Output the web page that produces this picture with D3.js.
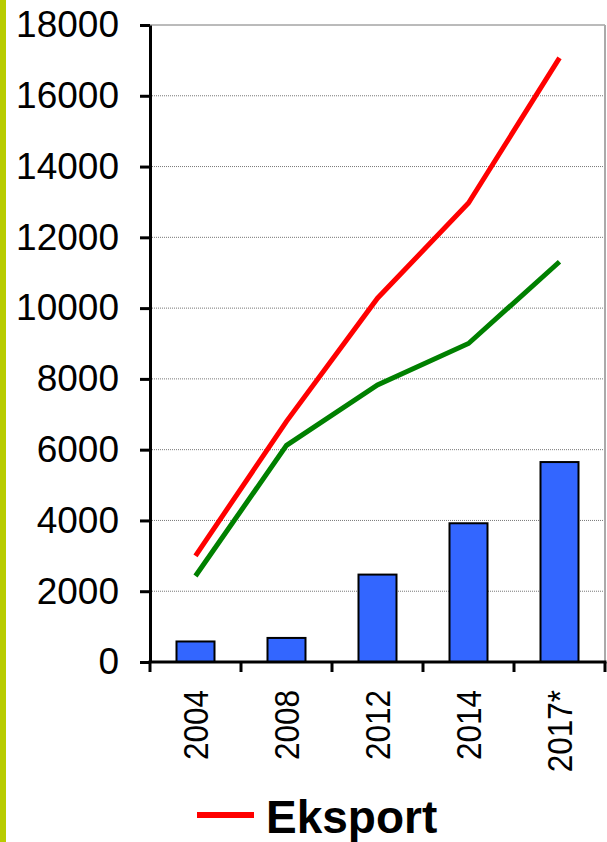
<!DOCTYPE html>
<html>
<head>
<meta charset="utf-8">
<script src="https://cdn.jsdelivr.net/npm/d3@7"></script>
<style>
  body { margin: 0; background: #fff; }
  svg { display: block; font-family: Arial, "Liberation Sans", sans-serif; }
</style>
</head>
<body>
<div id="chart"></div>
<script>
// chart data
var years = ["2004", "2008", "2012", "2014", "2017*"];
var bars = [580, 680, 2470, 3920, 5650];
var eksport = [3000, 6800, 10280, 12970, 17070];
var importVals = [2430, 6120, 7830, 9000, 11310];
var yTicks = [0, 2000, 4000, 6000, 8000, 10000, 12000, 14000, 16000, 18000];

var width = 607, height = 842;
// note: "top" is taken by window.top, so use plot* names
var plotLeft = 150, plotRight = 605, plotTop = 25, plotBottom = 662;

var svg = d3.select("#chart").append("svg")
    .attr("width", width)
    .attr("height", height);

// green side strip
svg.append("rect")
    .attr("x", 0).attr("y", 0)
    .attr("width", 6).attr("height", height)
    .attr("fill", "#b8cc00");

var x = d3.scaleBand()
    .domain(years)
    .range([plotLeft, plotRight]);

var y = d3.scaleLinear()
    .domain([0, 18000])
    .range([plotBottom, plotTop]);

// grid lines
svg.selectAll(".grid")
    .data(yTicks.filter(function(d) { return d > 0; }))
    .enter().append("line")
    .attr("x1", plotLeft).attr("x2", plotRight)
    .attr("y1", function(d) { return y(d); })
    .attr("y2", function(d) { return y(d); })
    .attr("stroke", "#777")
    .attr("stroke-width", 1)
    .attr("stroke-dasharray", function(d) { return d == 18000 ? null : "1,1"; });

// right border of plot area
svg.append("line")
    .attr("x1", plotRight).attr("x2", plotRight)
    .attr("y1", plotTop).attr("y2", plotBottom)
    .attr("stroke", "#aaa")
    .attr("stroke-width", 2);

// bars
var barW = 38;
svg.selectAll(".bar")
    .data(bars)
    .enter().append("rect")
    .attr("x", function(d, i) { return x(years[i]) + x.bandwidth() / 2 - barW / 2; })
    .attr("y", function(d) { return y(d); })
    .attr("width", barW)
    .attr("height", function(d) { return y(0) - y(d); })
    .attr("fill", "#3366ff")
    .attr("stroke", "#000")
    .attr("stroke-width", 2);

// lines
var line = d3.line()
    .x(function(d, i) { return x(years[i]) + x.bandwidth() / 2; })
    .y(function(d) { return y(d); });

svg.append("path")
    .datum(importVals)
    .attr("d", line)
    .attr("fill", "none")
    .attr("stroke", "#008000")
    .attr("stroke-width", 5);

svg.append("path")
    .datum(eksport)
    .attr("d", line)
    .attr("fill", "none")
    .attr("stroke", "#ff0000")
    .attr("stroke-width", 5);

// y axis
var yAxis = svg.append("g")
    .attr("transform", "translate(" + plotLeft + ",0)")
    .call(d3.axisLeft(y).tickValues(yTicks).tickFormat(d3.format("d"))
        .tickSize(10).tickPadding(21).tickSizeOuter(0));
yAxis.select(".domain").attr("stroke", "#000").attr("stroke-width", 3);
yAxis.selectAll(".tick line").attr("stroke", "#000").attr("stroke-width", 3);
yAxis.selectAll(".tick text")
    .attr("fill", "#000")
    .style("font-size", "37px")
    .style("font-family", "Arial, 'Liberation Sans', sans-serif");

// x axis
svg.append("line")
    .attr("x1", plotLeft - 1.5).attr("x2", plotRight + 1.5)
    .attr("y1", plotBottom).attr("y2", plotBottom)
    .attr("stroke", "#000")
    .attr("stroke-width", 3);

var bounds = years.map(function(d) { return x(d); }).concat([plotRight]);
svg.selectAll(".xtick")
    .data(bounds)
    .enter().append("line")
    .attr("x1", function(d) { return d; })
    .attr("x2", function(d) { return d; })
    .attr("y1", plotBottom).attr("y2", plotBottom + 10)
    .attr("stroke", "#000")
    .attr("stroke-width", 3);

svg.selectAll(".xlabel")
    .data(years)
    .enter().append("text")
    .attr("transform", function(d) {
        return "translate(" + (x(d) + x.bandwidth() / 2) + "," + (plotBottom + 28) + ") rotate(-90) scale(1,1.1)";
    })
    .attr("text-anchor", "end")
    .attr("dy", "0.35em")
    .style("font-size", "31.5px")
    .text(function(d) { return d; });

// legend
svg.append("line")
    .attr("x1", 197).attr("x2", 254)
    .attr("y1", 815).attr("y2", 815)
    .attr("stroke", "#ff0000")
    .attr("stroke-width", 6);

svg.append("text")
    .attr("x", 266)
    .attr("y", 833)
    .style("font-size", "46px")
    .style("font-weight", "bold")
    .text("Eksport");
</script>
</body>
</html>
